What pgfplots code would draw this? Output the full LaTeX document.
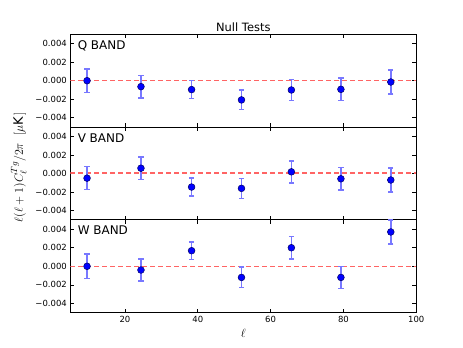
\documentclass[border=0pt]{standalone}
\usepackage{fontspec}
\setmainfont{DejaVu Sans}
\usepackage{pgfplots}
\pgfplotsset{compat=1.18}
\usepackage{pgfplotstable}

\pgfplotstableread{
x y e
9.6 0.00000 0.00128
24.4 -0.00064 0.00120
38.3 -0.00096 0.00098
52.0 -0.00207 0.00105
65.7 -0.00100 0.00114
79.3 -0.00093 0.00120
93.0 -0.00014 0.00130
}\Qdata
\pgfplotstableread{
x y e
9.6 -0.00050 0.00125
24.4 0.00057 0.00120
38.3 -0.00146 0.00096
52.0 -0.00160 0.00107
65.7 0.00018 0.00118
79.3 -0.00057 0.00120
93.0 -0.00070 0.00130
}\Vdata
\pgfplotstableread{
x y e
9.6 0.00000 0.00130
24.4 -0.00040 0.00120
38.3 0.00168 0.00096
52.0 -0.00120 0.00110
65.7 0.00200 0.00120
79.3 -0.00120 0.00120
93.0 0.00370 0.00130
}\Wdata

\definecolor{ebar}{RGB}{120,120,255}
\definecolor{zline}{RGB}{255,100,100}

\tikzset{band/.style={font=\fontsize{12}{14}\selectfont, anchor=north west, inner sep=0pt}}

\pgfplotsset{
  panel/.style={
    scale only axis, width=346bp, height=92.8bp,
    xmin=5, xmax=100, ymin=-0.005, ymax=0.005,
    xtick={20,40,60,80,100},
    ytick={-0.004,-0.002,0,0.002,0.004},
    yticklabels={−0.004,−0.002,0.000,0.002,0.004},
    tick align=inside, tick pos=both,
    major tick length=4bp,
    axis line style={line width=1bp},
    tick style={line width=0.7bp, black},
    tick label style={font=\fontsize{8.5}{10}\selectfont},
    /pgf/number format/assume math mode=true,
    scaled y ticks=false,
  },
  pts/.style={only marks, mark=*, mark size=3.4bp,
    mark options={draw=black!60!blue, fill=blue, line width=0.5bp},
    error bars/.cd, y dir=both, y explicit,
    error bar style={color=ebar, line width=1.5bp},
    error mark options={rotate=90, mark size=2.6bp, draw=ebar, line width=1.5bp}},
  zero/.style={draw=zline, color=zline, line width=1.5bp, dash pattern=on 5bp off 3bp},
}

\begin{document}
\begin{tikzpicture}
\path (0,0) rectangle (463bp,348bp);
% Q
\begin{axis}[panel, at={(70.3bp,220.9bp)}, anchor=south west, xticklabels={},
  title={Null Tests}, title style={font=\fontsize{11.5}{13}\selectfont, yshift=-7bp}]
\addplot[zero] coordinates {(5,0) (100,0)};
\addplot[pts] table[x=x,y=y,y error=e] {\Qdata};
\node[band] at (axis description cs:0.021,0.935) {Q BAND};
\end{axis}
% V
\begin{axis}[panel, at={(70.3bp,128.1bp)}, anchor=south west, xticklabels={},
  ylabel={$\ell(\ell+1)C_\ell^{Tg}/2\pi$\hspace{7bp}$[\mu$K$\,]$},
  ylabel shift=2bp,
  ylabel style={at={(ticklabel cs:0.57)}, font=\fontsize{13}{15}\selectfont}]
\addplot[zero, yshift=0.3bp] coordinates {(5,0) (100,0)};
\addplot[pts] table[x=x,y=y,y error=e] {\Vdata};
\node[band] at (axis description cs:0.021,0.935) {V BAND};
\end{axis}
% W
\begin{axis}[panel, at={(70.3bp,35.3bp)}, anchor=south west,
  xlabel={$\ell$}, xlabel style={font=\fontsize{13}{15}\selectfont}]
\addplot[zero] coordinates {(5,0) (100,0)};
\addplot[pts] table[x=x,y=y,y error=e] {\Wdata};
\node[band] at (axis description cs:0.021,0.935) {W BAND};
\end{axis}
\end{tikzpicture}
\end{document}
